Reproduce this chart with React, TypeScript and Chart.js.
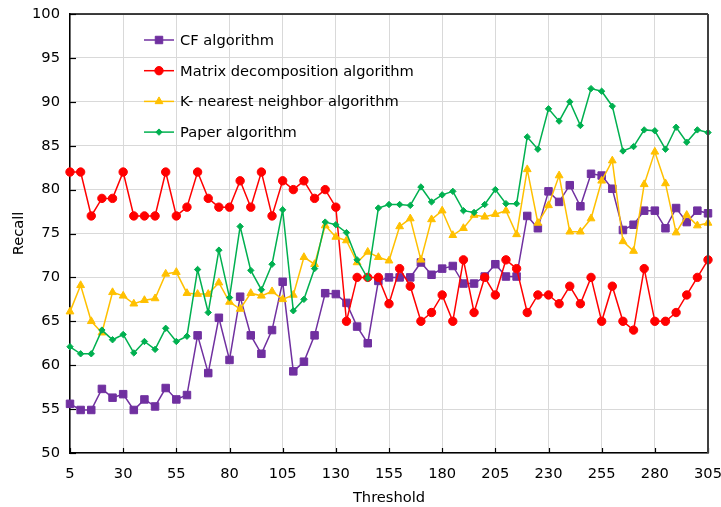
import React, { useEffect, useRef } from 'react';
import { Chart, registerables } from 'chart.js';

Chart.register(...registerables);

const thresholds = [
  5, 10, 15, 20, 25, 30, 35, 40, 45, 50,
  55, 60, 65, 70, 75, 80, 85, 90, 95, 100,
  105, 110, 115, 120, 125, 130, 135, 140, 145, 150,
  155, 160, 165, 170, 175, 180, 185, 190, 195, 200,
  205, 210, 215, 220, 225, 230, 235, 240, 245, 250,
  255, 260, 265, 270, 275, 280, 285, 290, 295, 300,
  305,
];

const cfValues = [
  55.6, 54.9, 54.9, 57.3, 56.3, 56.7, 54.9, 56.1, 55.3, 57.4,
  56.1, 56.6, 63.4, 59.1, 65.4, 60.6, 67.8, 63.4, 61.3, 64.0,
  69.5, 59.3, 60.4, 63.4, 68.2, 68.1, 67.1, 64.4, 62.5, 69.6,
  70.0, 70.0, 70.0, 71.7, 70.3, 71.0, 71.3, 69.3, 69.3, 70.1,
  71.5, 70.1, 70.1, 77.0, 75.6, 79.8, 78.6, 80.5, 78.1, 81.8,
  81.6, 80.1, 75.4, 76.0, 77.6, 77.6, 75.6, 77.9, 76.3, 77.6,
  77.3,
];

const matrixValues = [
  82, 82, 77, 79, 79, 82, 77, 77, 77, 82,
  77, 78, 82, 79, 78, 78, 81, 78, 82, 77,
  81, 80, 81, 79, 80, 78, 65, 70, 70, 70,
  67, 71, 69, 65, 66, 68, 65, 72, 66, 70,
  68, 72, 71, 66, 68, 68, 67, 69, 67, 70,
  65, 69, 65, 64, 71, 65, 65, 66, 68, 70,
  72,
];

const knnValues = [
  66.1, 69.1, 65.0, 63.7, 68.3, 67.9, 67.0, 67.4, 67.6, 70.4,
  70.6, 68.2, 68.1, 68.1, 69.4, 67.2, 66.4, 68.2, 67.9, 68.4,
  67.5, 68.0, 72.3, 71.5, 75.9, 74.6, 74.2, 71.7, 72.9, 72.3,
  71.9, 75.8, 76.7, 72.0, 76.6, 77.6, 74.8, 75.6, 77.1, 76.9,
  77.2, 77.6, 74.9, 82.3, 76.2, 78.2, 81.6, 75.2, 75.2, 76.7,
  81.0, 83.3, 74.1, 73.0, 80.6, 84.3, 80.7, 75.1, 77.1, 75.9,
  76.2,
];

const paperValues = [
  62.1, 61.3, 61.3, 64.0, 62.9, 63.5, 61.4, 62.7, 61.8, 64.2,
  62.7, 63.3, 70.9, 66.0, 73.1, 67.7, 75.8, 70.8, 68.6, 71.5,
  77.7, 66.2, 67.5, 71.0, 76.3, 76.0, 75.1, 72.0, 69.9, 77.9,
  78.3, 78.3, 78.2, 80.3, 78.6, 79.4, 79.8, 77.6, 77.4, 78.3,
  80.0, 78.4, 78.4, 86.0, 84.6, 89.2, 87.8, 90.0, 87.3, 91.5,
  91.2, 89.5, 84.4, 84.9, 86.8, 86.7, 84.6, 87.1, 85.4, 86.8,
  86.5,
];

const xTickValues = [5, 30, 55, 80, 105, 130, 155, 180, 205, 230, 255, 280, 305];

const seriesNames = [
  'CF algorithm',
  'Matrix decomposition algorithm',
  'K- nearest neighbor algorithm',
  'Paper algorithm',
];

const FONT = "'DejaVu Sans', Verdana, sans-serif";
const FS = 14.67;

const toPoints = (vals: number[]) => thresholds.map((x, i) => ({ x, y: vals[i] }));

function drawMarker(ctx: CanvasRenderingContext2D, style: string, x: number, y: number, r: number) {
  ctx.beginPath();
  if (style === 'rect') {
    const s = Math.SQRT1_2 * r;
    ctx.rect(x - s, y - s, 2 * s, 2 * s);
  } else if (style === 'circle') {
    ctx.arc(x, y, r, 0, Math.PI * 2);
  } else if (style === 'triangle') {
    ctx.moveTo(x, y - r);
    ctx.lineTo(x + Math.sin((2 * Math.PI) / 3) * r, y - Math.cos((2 * Math.PI) / 3) * r);
    ctx.lineTo(x + Math.sin((4 * Math.PI) / 3) * r, y - Math.cos((4 * Math.PI) / 3) * r);
    ctx.closePath();
  } else if (style === 'rectRot') {
    ctx.moveTo(x, y - r);
    ctx.lineTo(x + r, y);
    ctx.lineTo(x, y + r);
    ctx.lineTo(x - r, y);
    ctx.closePath();
  }
  ctx.fill();
  ctx.lineWidth = 1;
  ctx.stroke();
}

const framePlugin = {
  id: 'frame',
  beforeDatasetsDraw(chart: any) {
    const { ctx, chartArea, scales } = chart;
    const { left, bottom } = chartArea;
    ctx.save();
    ctx.strokeStyle = '#000';
    ctx.lineWidth = 1.2;
    xTickValues.forEach((v) => {
      const px = Math.round(scales.x.getPixelForValue(v)) + 0.5;
      ctx.beginPath();
      ctx.moveTo(px, bottom);
      ctx.lineTo(px, bottom - 5);
      ctx.stroke();
    });
    scales.y.ticks.forEach((t: any) => {
      const py = Math.round(scales.y.getPixelForValue(t.value)) + 0.5;
      ctx.beginPath();
      ctx.moveTo(left, py);
      ctx.lineTo(left + 6, py);
      ctx.stroke();
    });
    ctx.restore();
  },
  afterDraw(chart: any) {
    const { ctx, chartArea } = chart;
    const { left, right, top, bottom } = chartArea;
    ctx.save();
    ctx.strokeStyle = '#000';
    ctx.lineWidth = 1.5;
    ctx.beginPath();
    ctx.moveTo(left, top);
    ctx.lineTo(right, top);
    ctx.stroke();
    ctx.strokeStyle = '#404040';
    ctx.lineWidth = 2;
    ctx.beginPath();
    ctx.moveTo(right, top);
    ctx.lineTo(right, bottom);
    ctx.stroke();

    const startY = 40;
    const rowGap = 30.7;
    chart.data.datasets.forEach((ds: any, i: number) => {
      const y = startY + i * rowGap;
      ctx.strokeStyle = ds.borderColor;
      ctx.lineWidth = 1.5;
      ctx.beginPath();
      ctx.moveTo(144, y);
      ctx.lineTo(174, y);
      ctx.stroke();
      ctx.fillStyle = ds.pointBackgroundColor;
      ctx.strokeStyle = ds.pointBorderColor;
      drawMarker(ctx, ds.pointStyle, 159, y, ds.pointRadius);
      ctx.fillStyle = '#000';
      ctx.font = `${FS}px ${FONT}`;
      ctx.textBaseline = 'middle';
      ctx.textAlign = 'left';
      ctx.fillText(ds.label, 180, y + 1);
    });
    ctx.restore();
  },
};

export default function App() {
  const canvasRef = useRef<HTMLCanvasElement | null>(null);

  useEffect(() => {
    document.body.style.margin = '0';
    const canvas = canvasRef.current;
    if (!canvas) return;
    const colors = ['#7030A0', '#FF0000', '#FFC000', '#00B050'];
    const styles = ['rect', 'circle', 'triangle', 'rectRot'];
    const radii = [5.3, 4.2, 4.5, 3.2];
    const series = [cfValues, matrixValues, knnValues, paperValues];
    const orders = [3, 2, 1, 0];

    const chart = new Chart(canvas, {
      type: 'line',
      data: {
        datasets: series.map((vals, i) => ({
          label: seriesNames[i],
          data: toPoints(vals),
          borderColor: colors[i],
          backgroundColor: colors[i],
          pointBackgroundColor: colors[i],
          pointBorderColor: colors[i],
          pointStyle: styles[i],
          pointRadius: radii[i],
          pointBorderWidth: 1,
          borderWidth: 1.5,
          tension: 0,
          fill: false,
          clip: false,
          order: orders[i],
        })),
      },
      options: {
        responsive: false,
        animation: false,
        layout: { padding: { left: 0, right: 13, top: 14, bottom: 0 } },
        plugins: {
          legend: { display: false },
          tooltip: { enabled: false },
        },
        scales: {
          x: {
            type: 'linear',
            min: 5,
            max: 305,
            afterBuildTicks: (scale: any) => {
              scale.ticks = xTickValues.map((v) => ({ value: v }));
            },
            afterFit: (scale: any) => {
              scale.height = 54;
              scale.paddingLeft = 0;
              scale.paddingRight = 0;
            },
            grid: { color: '#d9d9d9', lineWidth: 1, drawTicks: false },
            border: { display: true, color: '#000', width: 1.5 },
            ticks: {
              autoSkip: false,
              maxRotation: 0,
              padding: 12,
              color: '#000',
              font: { family: FONT, size: FS },
            },
            title: {
              display: true,
              text: 'Threshold',
              color: '#000',
              font: { family: FONT, size: FS },
              padding: { top: 4, bottom: 0 },
            },
          },
          y: {
            min: 50,
            max: 100,
            afterFit: (scale: any) => {
              scale.width = 70;
              scale.paddingTop = 0;
              scale.paddingBottom = 0;
            },
            grid: { color: '#d9d9d9', lineWidth: 1, drawTicks: false },
            border: { display: true, color: '#000', width: 1.5 },
            ticks: {
              stepSize: 5,
              padding: 10,
              color: '#000',
              font: { family: FONT, size: FS },
            },
            title: {
              display: true,
              text: 'Recall',
              color: '#000',
              font: { family: FONT, size: FS },
              padding: { top: 10, bottom: 0 },
            },
          },
        },
      },
      plugins: [framePlugin],
    } as any);

    return () => chart.destroy();
  }, []);

  return (
    <div style={{ width: 721, height: 507 }}>
      <canvas ref={canvasRef} width={721} height={507} style={{ display: 'block' }} />
    </div>
  );
}
